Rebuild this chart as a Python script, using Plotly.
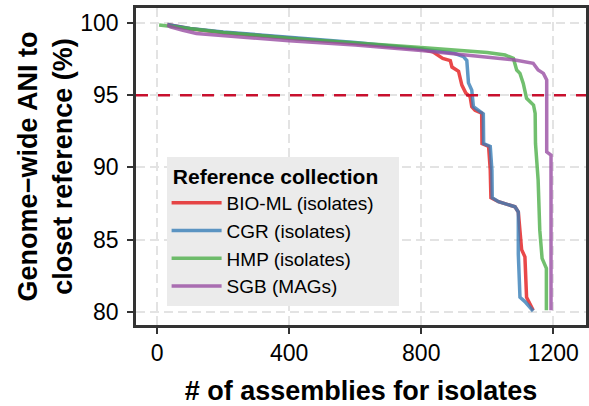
import plotly.graph_objects as go

# ---- data ----
names = ["BIO-ML (isolates)", "CGR (isolates)", "HMP (isolates)", "SGB (MAGs)"]
colors = ["rgba(228,26,28,0.8)", "rgba(55,126,184,0.8)", "rgba(77,175,74,0.8)", "rgba(152,78,163,0.8)"]

bio_x = [31, 100, 200, 400, 600, 800, 835, 850, 865, 888, 893, 913, 923, 935, 948, 953, 963, 983, 984, 1004, 1009, 1011, 1034, 1084, 1094, 1104, 1114, 1119, 1139]
bio_y = [99.9, 99.6, 99.35, 98.98, 98.62, 98.2, 98.0, 97.8, 97.55, 97.4, 96.95, 96.65, 95.7, 95.15, 94.9, 94.2, 93.95, 93.75, 91.65, 91.45, 89.8, 87.9, 87.62, 87.27, 86.9, 84.3, 83.8, 81.0, 80.1]

cgr_x = [31, 100, 200, 400, 600, 800, 900, 928, 938, 943, 953, 958, 978, 988, 989, 1009, 1014, 1015, 1034, 1084, 1094, 1094, 1099, 1114, 1139]
cgr_y = [99.9, 99.62, 99.38, 99.0, 98.65, 98.2, 97.9, 97.67, 97.4, 95.85, 95.35, 94.2, 93.85, 93.7, 91.65, 91.45, 89.8, 87.9, 87.62, 87.27, 86.9, 84.0, 81.0, 80.7, 80.05]

hmp_x = [6, 100, 200, 400, 600, 800, 1000, 1054, 1079, 1089, 1099, 1109, 1119, 1140, 1145, 1146, 1154, 1159, 1166, 1179, 1179]
hmp_y = [99.86, 99.6, 99.35, 98.95, 98.65, 98.3, 97.95, 97.78, 97.55, 96.74, 96.51, 95.82, 94.78, 94.32, 93.74, 91.66, 89.12, 85.65, 83.7, 83.0, 80.1]

sgb_x = [31, 40, 78, 119, 400, 600, 800, 1084, 1139, 1154, 1170, 1180, 1180, 1193, 1193]
sgb_y = [99.86, 99.74, 99.5, 99.27, 98.77, 98.48, 98.1, 97.44, 97.21, 96.74, 96.51, 96.05, 91.08, 90.85, 80.1]

series_x = [bio_x, cgr_x, hmp_x, sgb_x]
series_y = [bio_y, cgr_y, hmp_y, sgb_y]

threshold = 95
x_ticks = [0, 400, 800, 1200]
y_ticks = [80, 85, 90, 95, 100]

FONT = "Liberation Sans, Arial, Helvetica, sans-serif"
AXC = "#333333"

fig = go.Figure()
for nm, c, xs, ys in zip(names, colors, series_x, series_y):
    fig.add_trace(go.Scatter(x=xs, y=ys, mode="lines", name=nm + "\u2003",
                             line=dict(color=c, width=3.5)))

fig.add_hline(y=threshold, line=dict(color="#c8102e", width=2.5, dash="12px,10px"))

fig.update_layout(
    width=589, height=406,
    margin=dict(l=136, r=0, t=8, b=81),
    paper_bgcolor="white", plot_bgcolor="white",
    font=dict(family=FONT, color="black"),
    showlegend=True,
    legend=dict(
        title=dict(text="\u2009<b>Reference collection</b>", font=dict(size=21, color="black")),
        font=dict(size=19, color="black"),
        bgcolor="#ebebeb",
        x=0.068, y=0.531, xanchor="left", yanchor="top",
        borderwidth=0, itemwidth=50,
    ),
    xaxis=dict(
        range=[-64, 1299], tickvals=x_ticks, ticks="outside", ticklen=6, tickwidth=1.5,
        tickcolor=AXC, showline=True, linecolor=AXC, linewidth=2.5, mirror=True,
        showgrid=True, gridcolor="#e3e3e3", gridwidth=1.5, griddash="9px,5px",
        zeroline=False, tickfont=dict(size=23, color="black"),
        title=dict(text="<b># of assemblies for isolates</b>", font=dict(size=27, color="black"), standoff=16),
    ),
    yaxis=dict(
        range=[79.08, 101.04], tickvals=y_ticks, ticks="outside", ticklen=6, tickwidth=1.5,
        tickcolor=AXC, showline=True, linecolor=AXC, linewidth=2.5, mirror=True,
        showgrid=True, gridcolor="#e3e3e3", gridwidth=1.5, griddash="9px,5px",
        zeroline=False, tickfont=dict(size=23, color="black"), ticklabelstandoff=4,
        title=dict(text="<b>Genome\u2212wide ANI to<br>closet reference (%)</b>", font=dict(size=27, color="black"), standoff=0),
    ),
)

fig.write_html("out.html")
